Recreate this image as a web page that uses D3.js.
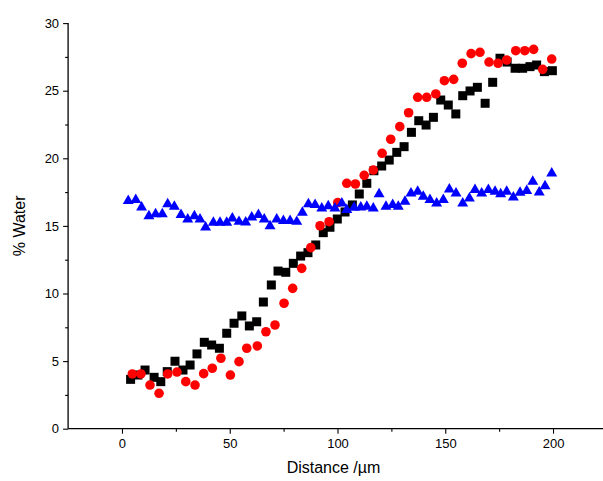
<!DOCTYPE html>
<html>
<head>
<meta charset="utf-8">
<script src="https://cdn.jsdelivr.net/npm/d3@7"></script>
<style>
  html, body { margin: 0; padding: 0; background: #fff; }
  svg { display: block; }
  text { font-family: "Liberation Sans", Arial, sans-serif; fill: #000; }
</style>
</head>
<body>
<svg id="chart" width="603" height="481"></svg>
<script>
// Water content profiles across the sample (distance in µm, % water)
const squareX = [4.0, 7.4, 10.7, 14.9, 18.0, 21.0, 24.6, 28.3, 31.6, 34.8, 38.2, 41.6, 45.2, 48.6, 52.0, 55.6, 59.1, 62.5, 65.6, 69.3, 72.4, 76.0, 79.5, 82.9, 86.3, 89.9, 93.4, 96.5, 99.9, 103.5, 106.9, 110.1, 113.6, 116.9, 120.5, 124.0, 127.5, 130.9, 134.3, 137.7, 141.1, 144.5, 147.9, 151.4, 154.9, 158.1, 161.5, 164.9, 168.5, 172.0, 175.4, 178.7, 182.4, 185.9, 189.3, 192.4, 196.0, 199.7];
const squareY = [3.65, 3.97, 4.34, 3.80, 3.48, 4.22, 4.99, 4.34, 4.71, 5.53, 6.39, 6.19, 5.95, 7.06, 7.80, 8.34, 7.60, 7.91, 9.37, 10.63, 11.66, 11.57, 12.23, 12.77, 13.02, 13.59, 14.50, 14.90, 15.51, 16.03, 16.55, 17.36, 18.15, 19.08, 19.43, 19.87, 20.44, 20.86, 21.92, 22.78, 22.46, 23.03, 24.31, 23.94, 23.28, 24.63, 24.98, 25.25, 24.07, 25.62, 27.40, 27.12, 26.66, 26.66, 26.78, 26.90, 26.41, 26.48];

const circleX = [4.8, 8.8, 13.0, 17.2, 21.2, 25.5, 29.6, 33.9, 37.9, 41.9, 45.9, 50.3, 54.3, 57.9, 62.8, 66.8, 71.0, 75.2, 79.2, 83.4, 87.6, 91.9, 96.1, 100.1, 104.3, 108.3, 112.4, 116.6, 120.7, 124.7, 128.9, 133.0, 137.2, 141.4, 145.6, 149.6, 153.9, 157.9, 162.0, 166.1, 170.3, 174.5, 178.5, 182.7, 186.9, 191.0, 195.2, 199.4];
const circleY = [4.05, 4.05, 3.23, 2.62, 4.05, 4.19, 3.48, 3.23, 4.07, 4.47, 5.21, 3.97, 4.96, 5.95, 6.12, 7.17, 7.67, 9.28, 10.38, 11.86, 13.39, 15.01, 15.31, 16.72, 18.15, 18.10, 18.74, 19.13, 20.37, 21.41, 22.34, 23.37, 24.51, 24.51, 24.76, 25.74, 25.84, 27.03, 27.74, 27.84, 27.12, 27.03, 27.27, 27.96, 27.96, 28.06, 26.58, 27.34];

const triangleX = [2.9, 6.4, 9.1, 12.5, 15.6, 18.7, 21.2, 24.3, 27.4, 30.5, 33.6, 36.2, 38.8, 42.4, 45.5, 48.6, 51.2, 54.3, 57.4, 60.2, 63.3, 66.0, 68.7, 71.8, 74.9, 78.0, 81.1, 83.7, 86.5, 89.6, 92.7, 95.7, 98.8, 102.0, 104.3, 107.7, 110.8, 113.6, 116.6, 119.3, 122.5, 125.6, 128.2, 131.3, 134.1, 137.2, 139.8, 142.9, 146.0, 149.1, 151.9, 155.0, 158.1, 161.2, 163.8, 166.9, 170.0, 173.1, 175.7, 178.5, 181.6, 184.7, 187.8, 190.6, 193.6, 196.3, 199.4];
const triangleY = [16.86, 16.92, 16.38, 15.73, 15.88, 15.88, 16.62, 16.42, 15.81, 15.49, 15.73, 15.49, 14.90, 15.24, 15.24, 15.24, 15.56, 15.31, 15.27, 15.64, 15.81, 15.49, 14.99, 15.49, 15.38, 15.38, 15.31, 15.98, 16.62, 16.55, 16.30, 16.47, 16.30, 16.67, 16.18, 16.35, 16.38, 16.42, 16.30, 17.36, 16.42, 16.55, 16.42, 16.79, 17.41, 17.53, 17.16, 16.92, 16.67, 16.92, 17.71, 17.41, 16.67, 17.04, 17.66, 17.41, 17.66, 17.53, 17.36, 17.53, 17.12, 17.46, 17.60, 18.27, 17.49, 17.95, 18.89];

const xMajorTicks = [0, 50, 100, 150, 200];
const xMinorTicks = [25, 75, 125, 175, 225];
const yMajorTicks = [0, 5, 10, 15, 20, 25, 30];
const yMinorTicks = [2.5, 7.5, 12.5, 17.5, 22.5, 27.5];

const svg = d3.select("#chart");

const x = d3.scaleLinear().domain([-25, 225]).range([68.1, 606.9]);
const y = d3.scaleLinear().domain([0, 30]).range([428.7, 23.1]);

const zip = (xs, ys) => xs.map((v, i) => [v, ys[i]]);

// Axes
const axisG = svg.append("g");

const xMinor = axisG.append("g")
  .attr("transform", `translate(0,${y(0)})`)
  .call(d3.axisBottom(x).tickValues(xMinorTicks).tickSize(3).tickFormat(""));
const xMajor = axisG.append("g")
  .attr("transform", `translate(0,${y(0)})`)
  .call(d3.axisBottom(x).tickValues(xMajorTicks).tickSize(5).tickPadding(5).tickFormat(d3.format("d")));

const yMinor = axisG.append("g")
  .attr("transform", `translate(${x(-25)},0)`)
  .call(d3.axisLeft(y).tickValues(yMinorTicks).tickSize(3).tickFormat(""));
const yMajor = axisG.append("g")
  .attr("transform", `translate(${x(-25)},0)`)
  .call(d3.axisLeft(y).tickValues(yMajorTicks).tickSize(5).tickPadding(4).tickFormat(d3.format("d")));

axisG.selectAll(".domain").attr("stroke", "#000").attr("stroke-width", 1.3);
axisG.selectAll(".tick line").attr("stroke", "#000").attr("stroke-width", 1.1);
axisG.selectAll(".tick text")
  .attr("font-size", 13)
  .attr("font-family", "'Liberation Sans', Arial, sans-serif")
  .attr("fill", "#000");
// keep the x domain path without end caps
xMajor.select(".domain").attr("d", `M${x(-25)},0H${x(225)}`);
xMinor.select(".domain").remove();
yMajor.select(".domain").attr("d", `M0,${y(0)}V${y(30)}`);
yMinor.select(".domain").remove();

// Axis titles
svg.append("text")
  .attr("x", (x(-25) + x(225)) / 2 - 4)
  .attr("y", 473)
  .attr("text-anchor", "middle")
  .attr("font-size", 16)
  .text("Distance /\u00B5m");

svg.append("text")
  .attr("transform", `translate(25,${(y(0) + y(30)) / 2}) rotate(-90)`)
  .attr("text-anchor", "middle")
  .attr("font-size", 16)
  .text("% Water");

// Series markers: squares, then circles, then triangles on top
const plot = svg.append("g");

const sq = 9;
plot.append("g").selectAll("rect")
  .data(zip(squareX, squareY))
  .join("rect")
  .attr("x", d => x(d[0]) - sq / 2)
  .attr("y", d => y(d[1]) - sq / 2)
  .attr("width", sq)
  .attr("height", sq)
  .attr("fill", "#000");

plot.append("g").selectAll("circle")
  .data(zip(circleX, circleY))
  .join("circle")
  .attr("cx", d => x(d[0]))
  .attr("cy", d => y(d[1]))
  .attr("r", 4.8)
  .attr("fill", "#ff0000");

const tri = d3.symbol().type(d3.symbolTriangle).size(52);
plot.append("g").selectAll("path")
  .data(zip(triangleX, triangleY))
  .join("path")
  .attr("transform", d => `translate(${x(d[0])},${y(d[1])})`)
  .attr("d", tri)
  .attr("fill", "#0000ff");
</script>
</body>
</html>
